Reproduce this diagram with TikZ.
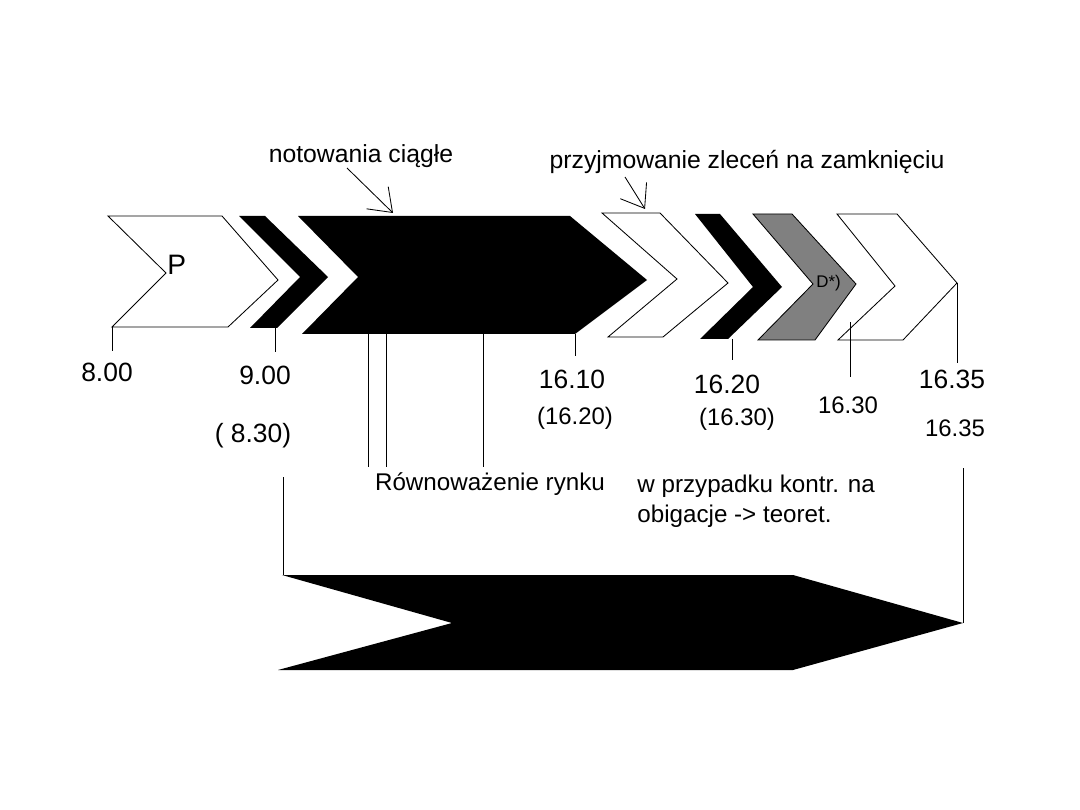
\documentclass[tikz,border=0pt]{standalone}
\usepackage{fontspec}
\setmainfont{Liberation Sans}
\usetikzlibrary{arrows.meta}
\definecolor{SESS-GREY}{RGB}{128,128,128}

\begin{document}
\begin{tikzpicture}[x=0.25mm, y=-0.25mm, line width=0.6pt,
  lbl/.style={anchor=base, inner sep=0pt, font=\fontsize{17.2}{20}\selectfont},
  numbig/.style={lbl, font=\fontsize{18.8}{22}\selectfont},
  numsmall/.style={lbl, font=\fontsize{17}{20}\selectfont},
  barb/.style={-{Straight Barb[length=15pt,width=22pt]}}]
  \useasboundingbox (0,0) rectangle (1080,810);

  % Pre-opening (P)
  \filldraw[fill=white, draw=black] (108,216) -- (222,216) -- (278,280) -- (228,327)
    -- (112,327) -- (166,273) -- cycle;
  \node[anchor=west, inner sep=0pt, font=\fontsize{20}{24}\selectfont] (p) at (167,265) {P};

  % Opening
  \fill[black] (239,216) -- (265,216) -- (328,277) -- (277,328) -- (250,328) -- (300,277) -- cycle;

  % Continuous trading
  \fill[black] (298,216) -- (570,216) -- (647,280) -- (575,334) -- (302,334) -- (358,277) -- cycle;

  % Closing orders
  \filldraw[fill=white, draw=black] (602,213) -- (660,213) -- (728,283) -- (663,337)
    -- (608,337) -- (677,279) -- cycle;

  % Closing
  \fill[black] (695,214) -- (720,214) -- (782,287) -- (728,339) -- (700,339) -- (753,287) -- cycle;

  % D*)
  \filldraw[fill=SESS-GREY, draw=black] (753,214) -- (792,214) -- (856,284) -- (815,340)
    -- (758,340) -- (813,284) -- cycle;
  \node[anchor=west, inner sep=0pt, font=\fontsize{12}{14}\selectfont] (d) at (816,283) {D*)};

  % After close
  \filldraw[fill=white, draw=black] (837,214) -- (897,214) -- (957,283) -- (903,340)
    -- (838,340) -- (895,286) -- cycle;

  % Whole session (bottom)
  \fill[black] (282,575) -- (793,575) -- (963,623) -- (793,670) -- (278,670) -- (452,623) -- cycle;

  % Labels above
  \node[lbl, font=\fontsize{17.6}{20}\selectfont] (notow) at (361,163) {notowania ciągłe};
  \node[lbl, font=\fontsize{17.6}{20}\selectfont] (przyj) at (747,169) {przyjmowanie zleceń na zamknięciu};
  \coordinate (notowTail) at (347,168);
  \coordinate (notowTip) at (393,213);
  \coordinate (przyjTail) at (625,177);
  \coordinate (przyjTip) at (645,209);
  \draw[barb] (notowTail) -- (notowTip);
  \draw[barb] (przyjTail) -- (przyjTip);

  % Times
  \node[numbig] (t800) at (107,382) {8.00};
  \node[numbig] (t900) at (265,385) {9.00};
  \node[numbig] (t830) at (253,442) {( 8.30)};
  \node[numbig] (t1610) at (572,389) {16.10};
  \node[numsmall] (t1620b) at (575,424) {(16.20)};
  \node[numbig] (t1620) at (727,393) {16.20};
  \node[numsmall] (t1630b) at (737,425) {(16.30)};
  \node[numsmall] (t1630) at (848,413) {16.30};
  \node[numbig] (t1635) at (952,389) {16.35};
  \node[numsmall] (t1635b) at (955,436) {16.35};

  % Notes
  \node[lbl] (rown) at (490,490) {Równoważenie rynku};
  \node[anchor=base west, inner sep=0pt, align=left,
    font=\fontsize{17.2}{21.3}\selectfont] (kontr) at (637,522)
    {w przypadku kontr. na\\obigacje -> teoret.};

  % Tick lines
  \coordinate (c800a) at (112,327);  \coordinate (c800b) at (112,351);
  \coordinate (c900a) at (275,328);  \coordinate (c900b) at (275,352);
  \coordinate (r1a) at (368,334);    \coordinate (r1b) at (368,467);
  \coordinate (r2a) at (386,334);    \coordinate (r2b) at (386,467);
  \coordinate (r3a) at (483,334);    \coordinate (r3b) at (483,467);
  \coordinate (c1610a) at (575,334); \coordinate (c1610b) at (575,356);
  \coordinate (c1620a) at (732,339); \coordinate (c1620b) at (732,360);
  \coordinate (c1630a) at (850,322); \coordinate (c1630b) at (850,377);
  \coordinate (c1635a) at (957,283); \coordinate (c1635b) at (957,363);
  \draw (c800a) -- (c800b);
  \draw (c900a) -- (c900b);
  \draw (r1a) -- (r1b);
  \draw (r2a) -- (r2b);
  \draw (r3a) -- (r3b);
  \draw (c1610a) -- (c1610b);
  \draw (c1620a) -- (c1620b);
  \draw (c1630a) -- (c1630b);
  \draw (c1635a) -- (c1635b);

  % Bracket to bottom arrow
  \coordinate (sessL) at (283,477);  \coordinate (sessLb) at (283,575);
  \coordinate (sessR) at (963,468);  \coordinate (sessRb) at (963,623);
  \draw (sessL) -- (sessLb);
  \draw (sessR) -- (sessRb);
\end{tikzpicture}
\end{document}
